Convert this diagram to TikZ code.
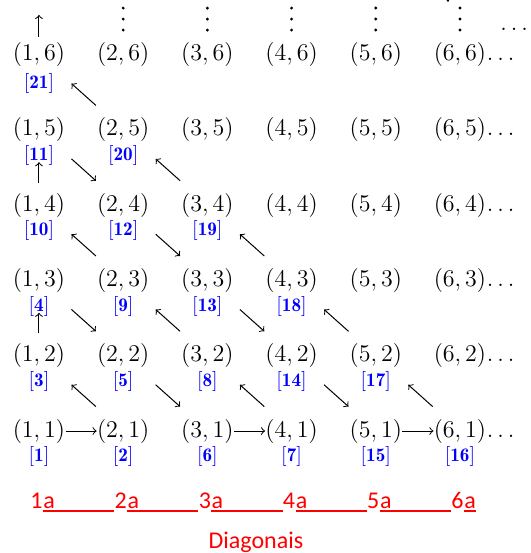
\documentclass[tikz,border=0pt]{standalone}
\usepackage{amsmath}
\usepackage{amssymb}
\usepackage{fontspec}
\newfontfamily\calib{Carlito}
\usepackage{tikz}
\usetikzlibrary{arrows,positioning}
\tikzset{pair/.style = {inner sep = 0pt, font = \fontsize{12.3}{14}\selectfont}}
\tikzset{num/.style = {inner sep = 0pt, text = blue, font = \fontsize{9.6}{11}\selectfont}}
\tikzset{diag/.style = {inner sep = 0pt, text = red, font = \calib\fontsize{12}{14}\selectfont}}
\tikzset{edge/.style = {->,> = to, line width = 0.5pt}}
\tikzset{nw/.style = {edge, shorten <= 9pt, shorten >= 12.5pt}}
\tikzset{se/.style = {edge, shorten <= 12.5pt, shorten >= 9pt}}
\tikzset{up/.style = {edge, shorten <= 5pt, shorten >= 10pt}}
\tikzset{dot/.style = {fill, radius = 0.8pt}}

\begin{document}
\begin{tikzpicture}[x = 42.1pt, y = 37.65pt]
			\useasboundingbox (0.537, -0.620) rectangle (6.843, 6.724);

			\node[pair] (a11) at (1, 1) {$(1,1)$};
			\node[pair] (a21) at (2, 1) {$(2,1)$};
			\node[pair] (a31) at (3, 1) {$(3,1)$};
			\node[pair] (a41) at (4, 1) {$(4,1)$};
			\node[pair] (a51) at (5, 1) {$(5,1)$};
			\node[pair] (a61) at (6, 1) {$(6,1)$};
			\node[pair] (a12) at (1, 2) {$(1,2)$};
			\node[pair] (a22) at (2, 2) {$(2,2)$};
			\node[pair] (a32) at (3, 2) {$(3,2)$};
			\node[pair] (a42) at (4, 2) {$(4,2)$};
			\node[pair] (a52) at (5, 2) {$(5,2)$};
			\node[pair] (a62) at (6, 2) {$(6,2)$};
			\node[pair] (a13) at (1, 3) {$(1,3)$};
			\node[pair] (a23) at (2, 3) {$(2,3)$};
			\node[pair] (a33) at (3, 3) {$(3,3)$};
			\node[pair] (a43) at (4, 3) {$(4,3)$};
			\node[pair] (a53) at (5, 3) {$(5,3)$};
			\node[pair] (a63) at (6, 3) {$(6,3)$};
			\node[pair] (a14) at (1, 4) {$(1,4)$};
			\node[pair] (a24) at (2, 4) {$(2,4)$};
			\node[pair] (a34) at (3, 4) {$(3,4)$};
			\node[pair] (a44) at (4, 4) {$(4,4)$};
			\node[pair] (a54) at (5, 4) {$(5,4)$};
			\node[pair] (a64) at (6, 4) {$(6,4)$};
			\node[pair] (a15) at (1, 5) {$(1,5)$};
			\node[pair] (a25) at (2, 5) {$(2,5)$};
			\node[pair] (a35) at (3, 5) {$(3,5)$};
			\node[pair] (a45) at (4, 5) {$(4,5)$};
			\node[pair] (a55) at (5, 5) {$(5,5)$};
			\node[pair] (a65) at (6, 5) {$(6,5)$};
			\node[pair] (a16) at (1, 6) {$(1,6)$};
			\node[pair] (a26) at (2, 6) {$(2,6)$};
			\node[pair] (a36) at (3, 6) {$(3,6)$};
			\node[pair] (a46) at (4, 6) {$(4,6)$};
			\node[pair] (a56) at (5, 6) {$(5,6)$};
			\node[pair] (a66) at (6, 6) {$(6,6)$};

			% dots at the edges
			\node[pair, anchor = base west] (e1) at (a61.base east) {$\ldots$};
			\node[pair, anchor = base west] (e2) at (a62.base east) {$\ldots$};
			\node[pair, anchor = base west] (e3) at (a63.base east) {$\ldots$};
			\node[pair, anchor = base west] (e4) at (a64.base east) {$\ldots$};
			\node[pair, anchor = base west] (e5) at (a65.base east) {$\ldots$};
			\node[pair, anchor = base west] (e6) at (a66.base east) {$\ldots$};
			\node[pair, anchor = base west] (e7) at (6.475, 6.325) {$\ldots$};
			\fill[dot] (2, 6.617) circle (0.8pt) (2, 6.471) circle (0.8pt) (2, 6.325) circle (0.8pt);
			\fill[dot] (3, 6.617) circle (0.8pt) (3, 6.471) circle (0.8pt) (3, 6.325) circle (0.8pt);
			\fill[dot] (4, 6.617) circle (0.8pt) (4, 6.471) circle (0.8pt) (4, 6.325) circle (0.8pt);
			\fill[dot] (5, 6.617) circle (0.8pt) (5, 6.471) circle (0.8pt) (5, 6.325) circle (0.8pt);
			\fill[dot] (6, 6.617) circle (0.8pt) (6, 6.471) circle (0.8pt) (6, 6.325) circle (0.8pt);
			\fill (5.857, 6.716) circle (0.65pt);
			\coordinate (top) at (1, 6.525);

			% order of counting
			\node[num, below = 1.5pt of a11] (n1) {$[\mathbf{1}]$};
			\node[num, below = 1.5pt of a21] (n2) {$[\mathbf{2}]$};
			\node[num, below = 1.5pt of a12] (n3) {$[\mathbf{3}]$};
			\node[num, below = 1.5pt of a13] (n4) {$[\mathbf{4}]$};
			\node[num, below = 1.5pt of a22] (n5) {$[\mathbf{5}]$};
			\node[num, below = 1.5pt of a31] (n6) {$[\mathbf{6}]$};
			\node[num, below = 1.5pt of a41] (n7) {$[\mathbf{7}]$};
			\node[num, below = 1.5pt of a32] (n8) {$[\mathbf{8}]$};
			\node[num, below = 1.5pt of a23] (n9) {$[\mathbf{9}]$};
			\node[num, below = 1.5pt of a14] (n10) {$[\mathbf{10}]$};
			\node[num, below = 1.5pt of a15] (n11) {$[\mathbf{11}]$};
			\node[num, below = 1.5pt of a24] (n12) {$[\mathbf{12}]$};
			\node[num, below = 1.5pt of a33] (n13) {$[\mathbf{13}]$};
			\node[num, below = 1.5pt of a42] (n14) {$[\mathbf{14}]$};
			\node[num, below = 1.5pt of a51] (n15) {$[\mathbf{15}]$};
			\node[num, below = 1.5pt of a61] (n16) {$[\mathbf{16}]$};
			\node[num, below = 1.5pt of a52] (n17) {$[\mathbf{17}]$};
			\node[num, below = 1.5pt of a43] (n18) {$[\mathbf{18}]$};
			\node[num, below = 1.5pt of a34] (n19) {$[\mathbf{19}]$};
			\node[num, below = 1.5pt of a25] (n20) {$[\mathbf{20}]$};
			\node[num, below = 3pt of a16] (n21) {$[\mathbf{21}]$};

			\draw[edge] (a11) to (a21);
			\draw[nw] (a21) to (a12);
			\draw[up] (a12) to (a13);
			\draw[se] (a13) to (a22);
			\draw[se] (a22) to (a31);
			\draw[edge] (a31) to (a41);
			\draw[nw] (a41) to (a32);
			\draw[nw] (a32) to (a23);
			\draw[nw] (a23) to (a14);
			\draw[up] (a14) to (a15);
			\draw[se] (a15) to (a24);
			\draw[se] (a24) to (a33);
			\draw[se] (a33) to (a42);
			\draw[se] (a42) to (a51);
			\draw[edge] (a51) to (a61);
			\draw[nw] (a61) to (a52);
			\draw[nw] (a52) to (a43);
			\draw[nw] (a43) to (a34);
			\draw[nw] (a34) to (a25);
			\draw[nw] (a25) to (a16);
			\draw[edge, shorten <= 2.75pt] (a16) to (top);

			% diagonals
			\node[diag, anchor = base west] (d1) at (0.893, -0.023) {1};
			\node[diag, anchor = base west] (s1) at (d1.base east) {a};
			\node[diag, anchor = base west] (d2) at (1.893, -0.023) {2};
			\node[diag, anchor = base west] (s2) at (d2.base east) {a};
			\node[diag, anchor = base west] (d3) at (2.893, -0.023) {3};
			\node[diag, anchor = base west] (s3) at (d3.base east) {a};
			\node[diag, anchor = base west] (d4) at (3.893, -0.023) {4};
			\node[diag, anchor = base west] (s4) at (d4.base east) {a};
			\node[diag, anchor = base west] (d5) at (4.893, -0.023) {5};
			\node[diag, anchor = base west] (s5) at (d5.base east) {a};
			\node[diag, anchor = base west] (d6) at (5.893, -0.023) {6};
			\node[diag, anchor = base west] (s6) at (d6.base east) {a};
			\draw[red, line width = 1pt] ([yshift = -1.6pt]s1.base west) -- ([yshift = -1.6pt]d2.base west);
			\draw[red, line width = 1pt] ([yshift = -1.6pt]s2.base west) -- ([yshift = -1.6pt]d3.base west);
			\draw[red, line width = 1pt] ([yshift = -1.6pt]s3.base west) -- ([yshift = -1.6pt]d4.base west);
			\draw[red, line width = 1pt] ([yshift = -1.6pt]s4.base west) -- ([yshift = -1.6pt]d5.base west);
			\draw[red, line width = 1pt] ([yshift = -1.6pt]s5.base west) -- ([yshift = -1.6pt]d6.base west);
			\draw[red, line width = 1pt] ([yshift = -1.6pt]s6.base west) -- ([yshift = -1.6pt]s6.base east);
			\node[diag, anchor = base] (title) at (3.577, -0.554) {Diagonais};
		\end{tikzpicture}
\end{document}
